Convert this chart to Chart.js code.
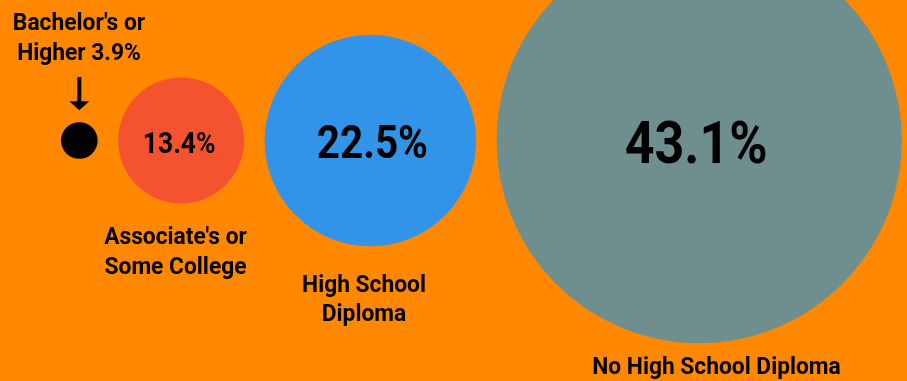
<!DOCTYPE html>
<html>
<head>
<meta charset="utf-8">
<script src="https://cdn.jsdelivr.net/npm/chart.js@4.4.1/dist/chart.umd.min.js"></script>
<style>
  html, body { margin: 0; padding: 0; background: #FF8800; }
  #wrap { position: relative; width: 907px; height: 381px; }
</style>
</head>
<body>
<div id="wrap"><canvas id="c"></canvas></div>
<script>
// ---- data ----
const categories = ["Bachelor's or Higher", "Associate's or Some College", "High School Diploma", "No High School Diploma"];
const values = [3.9, 13.4, 22.5, 43.1];
const valueLabels = ["3.9%", "13.4%", "22.5%", "43.1%"];
const categoryLines = [["Bachelor's or", "Higher 3.9%"], ["Associate's or", "Some College"], ["High School", "Diploma"], ["No High School Diploma"]];

// ---- styling / layout ----
const colors = ["#000000", "#F5532F", "#3194E9", "#6E8F8E"];
const PX_PER_UNIT = 4.7;         // radius pixels per percentage point (matches x scale px/unit)
const LEFT_PAD = 61 / PX_PER_UNIT;
const GAP = 20.5 / PX_PER_UNIT;
const ROW_Y = 140.5 / PX_PER_UNIT;
const X_MAX = 907 / PX_PER_UNIT;
const Y_MAX = 381 / PX_PER_UNIT;

// bubbles placed side by side, radius proportional to value
const points = [];
let cursor = LEFT_PAD;
values.forEach(v => {
  points.push({ x: cursor + v, y: ROW_Y, r: v * PX_PER_UNIT });
  cursor += 2 * v + GAP;
});

const FONT = 'Roboto, "Liberation Sans", sans-serif';

function drawText(ctx, txt, x, y, size, sx) {
  ctx.save();
  ctx.font = 'bold ' + size + 'px ' + FONT;
  ctx.translate(x, y);
  ctx.scale(sx, 1);
  ctx.textAlign = 'center';
  ctx.textBaseline = 'alphabetic';
  ctx.fillStyle = '#000';
  ctx.fillText(txt, 0, 0);
  ctx.restore();
}

const valueStyle = [null, { size: 30, dx: -2 }, { size: 46, dx: 2 }, { size: 59, dx: -3 }];
const catStyle = [
  { x: 79, y: 30 },
  { x: 175.5, y: 244 },
  { x: 364, y: 291.5 },
  { x: 716.5, y: 374 }
];

const labelPlugin = {
  id: 'labels',
  afterDatasetsDraw(chart) {
    const ctx = chart.ctx;
    const meta = chart.getDatasetMeta(0);
    meta.data.forEach((el, i) => {
      const vs = valueStyle[i];
      if (vs) {
        drawText(ctx, valueLabels[i], el.x + vs.dx, el.y + vs.size * 0.711 / 2 + 1.5, vs.size, 0.88);
      }
      const cs = catStyle[i];
      categoryLines[i].forEach((line, k) => {
        drawText(ctx, line, cs.x, cs.y + k * 29.5, 23, 0.99);
      });
    });
    // arrow pointing at the smallest bubble
    const el0 = meta.data[0];
    const r0 = el0.options.radius;
    const tipY = el0.y - r0 - 12;
    ctx.save();
    ctx.fillStyle = '#000';
    ctx.fillRect(el0.x - 2, 77, 4, tipY - 9 - 77 + 1);
    ctx.beginPath();
    ctx.moveTo(el0.x - 10, tipY - 9);
    ctx.lineTo(el0.x + 10, tipY - 9);
    ctx.lineTo(el0.x, tipY);
    ctx.closePath();
    ctx.fill();
    ctx.restore();
  }
};

new Chart(document.getElementById('c'), {
  type: 'bubble',
  data: {
    datasets: [{
      label: 'Share',
      data: points,
      backgroundColor: colors,
      borderWidth: 0,
      hoverBorderWidth: 0,
      clip: false
    }]
  },
  options: {
    responsive: true,
    maintainAspectRatio: false,
    animation: false,
    layout: { padding: 0, autoPadding: false },
    plugins: { legend: { display: false }, tooltip: { enabled: false } },
    scales: {
      x: { type: 'linear', min: 0, max: X_MAX, display: false },
      y: { type: 'linear', min: 0, max: Y_MAX, reverse: true, display: false }
    }
  },
  plugins: [labelPlugin]
});
</script>
</body>
</html>
